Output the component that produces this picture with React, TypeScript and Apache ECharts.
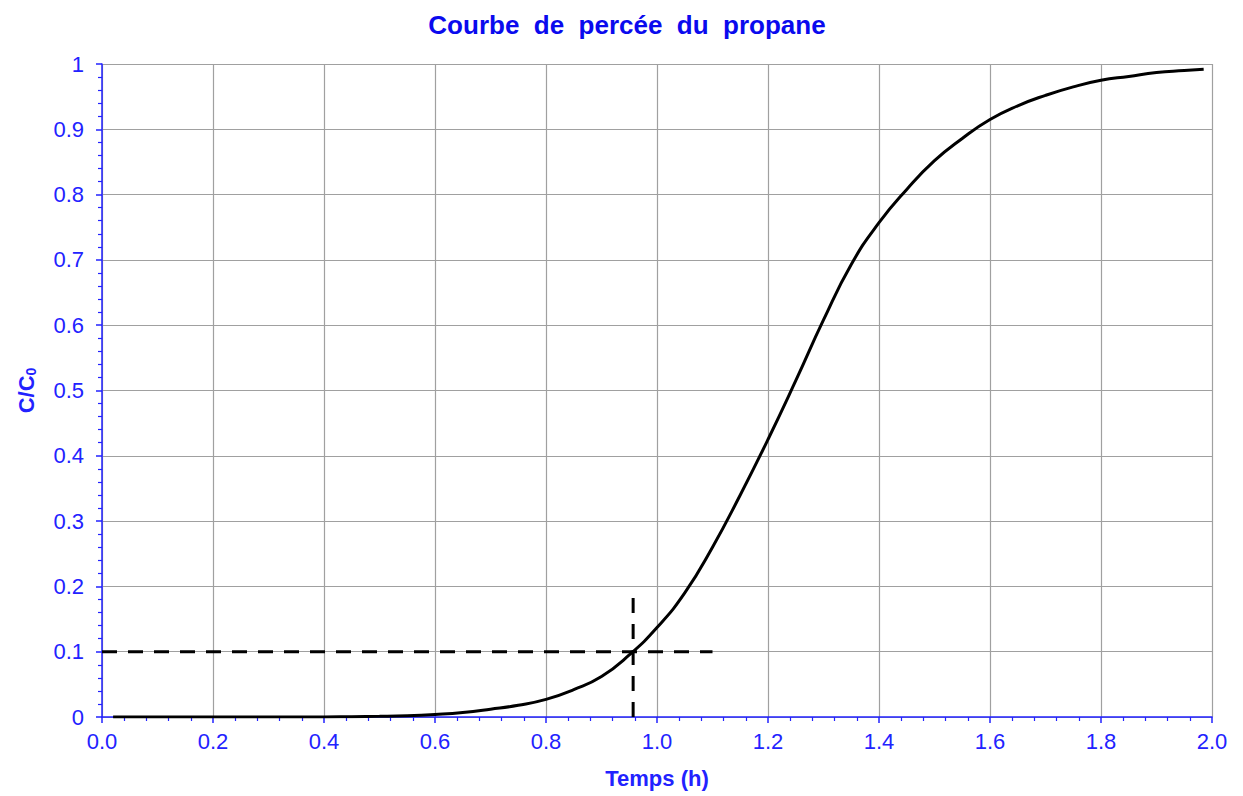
import React, { useEffect, useRef } from "react";
import * as echarts from "echarts";

const TITLE = "Courbe  de  percée  du  propane";
const X_NAME = "Temps (h)";

const timeValues = [
  0.02, 0.1, 0.2, 0.3, 0.4, 0.45, 0.5, 0.55, 0.6, 0.65, 0.7, 0.75, 0.8, 0.85, 0.9, 0.95,
  1.0, 1.05, 1.1, 1.15, 1.2, 1.25, 1.3, 1.35, 1.4, 1.45, 1.5, 1.55, 1.6, 1.65, 1.7, 1.75,
  1.8, 1.85, 1.9, 1.95, 1.985,
];
const ratioValues = [
  0, 0, 0, 0, 0, 0.0005, 0.001, 0.002, 0.004, 0.007, 0.012, 0.018, 0.027, 0.042, 0.062, 0.095,
  0.137, 0.19, 0.26, 0.34, 0.425, 0.515, 0.608, 0.693, 0.757, 0.808, 0.852, 0.886, 0.915, 0.936, 0.952, 0.965,
  0.975, 0.981, 0.987, 0.99, 0.992,
];

const hDashX = [0, 1.1];
const hDashY = [0.1, 0.1];
const vDashX = [0.957, 0.957];
const vDashY = [0, 0.187];

const BLUE = "#2222ff";
const FONT = "Liberation Sans, Arial, sans-serif";

export default function App() {
  const ref = useRef<HTMLDivElement>(null);
  useEffect(() => {
    if (!ref.current) return;
    const chart = echarts.init(ref.current, undefined, { renderer: "svg" });
    const curve = timeValues.map((t, i) => [t, ratioValues[i]]);
    const hDash = hDashX.map((x, i) => [x, hDashY[i]]);
    const vDash = vDashX.map((x, i) => [x, vDashY[i]]);
    chart.setOption({
      animation: false,
      backgroundColor: "#ffffff",
      textStyle: { fontFamily: FONT },
      title: {
        text: TITLE,
        left: 622,
        textAlign: "center",
        top: 7,
        textStyle: { color: "#0a0aee", fontSize: 26, fontWeight: "bold", fontFamily: FONT },
      },
      grid: { left: 102, right: 31, top: 64, bottom: 79, containLabel: false },
      xAxis: {
        type: "value",
        min: 0,
        max: 2,
        interval: 0.2,
        name: X_NAME,
        nameLocation: "middle",
        nameGap: 50,
        nameTextStyle: { color: BLUE, fontSize: 22, fontWeight: "bold", fontFamily: FONT },
        axisLine: { onZero: false, lineStyle: { color: BLUE, width: 1.5 } },
        axisTick: { show: true, inside: false, length: 6, lineStyle: { color: BLUE, width: 1.5 } },
        minorTick: { show: true, splitNumber: 5, length: 4, lineStyle: { color: BLUE, width: 1.2 } },
        axisLabel: { color: BLUE, fontSize: 22, margin: 13, fontFamily: FONT, formatter: (v: number) => v.toFixed(1) },
        splitLine: { show: true, lineStyle: { color: "#a0a0a0", width: 1.2 } },
      },
      yAxis: {
        type: "value",
        min: 0,
        max: 1,
        interval: 0.1,
        name: "{a|C/C}{b|0}",
        nameLocation: "middle",
        nameGap: 64,
        nameRotate: 90,
        nameTextStyle: {
          color: BLUE,
          fontWeight: "bold",
          rich: {
            a: { color: BLUE, fontSize: 22, fontWeight: "bold", fontFamily: FONT },
            b: { color: BLUE, fontSize: 14, fontWeight: "bold", fontFamily: FONT, verticalAlign: "bottom", padding: [10, 0, 0, 0] },
          },
        },
        axisLine: { lineStyle: { color: BLUE, width: 1.5 } },
        axisTick: { show: true, inside: false, length: 6, lineStyle: { color: BLUE, width: 1.5 } },
        minorTick: { show: true, splitNumber: 5, length: 4, lineStyle: { color: BLUE, width: 1.2 } },
        axisLabel: {
          color: BLUE,
          fontSize: 22,
          margin: 18,
          fontFamily: FONT,
          formatter: (v: number) => String(Math.round(v * 10) / 10),
        },
        splitLine: { show: true, lineStyle: { color: "#a0a0a0", width: 1.2 } },
      },
      series: [
        {
          type: "line",
          data: curve,
          smooth: 0.5,
          showSymbol: false,
          lineStyle: { color: "#000", width: 3 },
          z: 5,
        },
        {
          type: "line",
          data: hDash,
          showSymbol: false,
          lineStyle: { color: "#000", width: 3, type: [15, 11] },
          z: 4,
        },
        {
          type: "line",
          data: vDash,
          showSymbol: false,
          lineStyle: { color: "#000", width: 3, type: [15, 11] },
          z: 4,
        },
      ],
    });
    return () => chart.dispose();
  }, []);
  return <div ref={ref} style={{ width: 1243, height: 796, position: "absolute", left: 0, top: 0 }} />;
}
